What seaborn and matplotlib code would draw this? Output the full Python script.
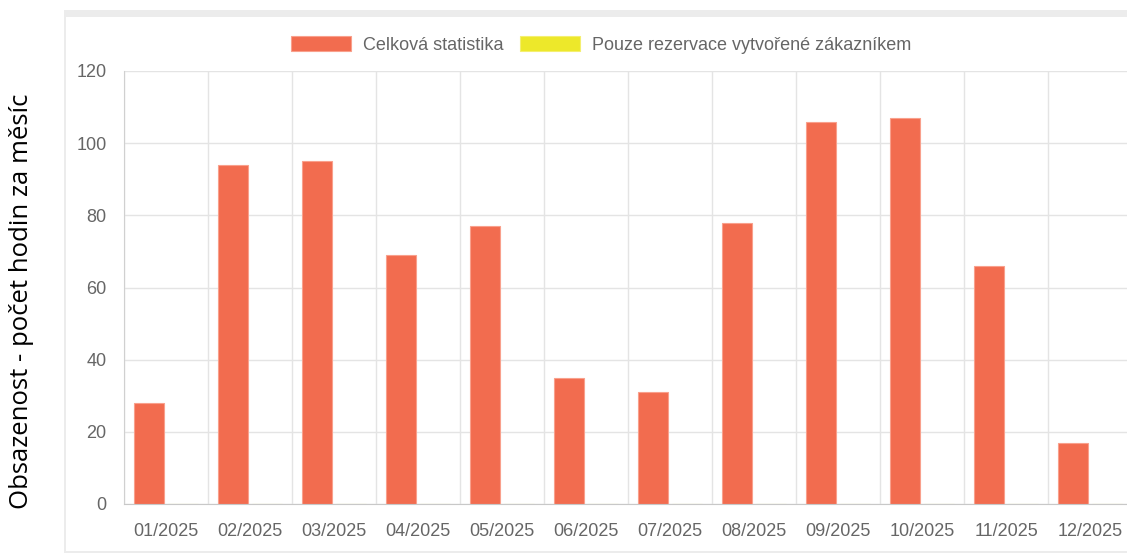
import pandas as pd
import matplotlib.pyplot as plt
import matplotlib.patches as mpatches
from matplotlib.ticker import FixedLocator, MultipleLocator
import seaborn as sns

# data
months = ['01/2025', '02/2025', '03/2025', '04/2025', '05/2025', '06/2025',
          '07/2025', '08/2025', '09/2025', '10/2025', '11/2025', '12/2025']
total_hours = [28, 94, 95, 69, 77, 35, 31, 78, 106, 107, 66, 17]
customer_hours = [0, 0, 0, 0, 0, 0, 0, 0, 0, 0, 0, 0]
series_names = ['Celková statistika', 'Pouze rezervace vytvořené zákazníkem']
colors = ['#f26c4f', '#ede82a']
edge_colors = ['#f9a08c', '#f4ef70']
y_label = 'Obsazenost - počet hodin za měsíc'

df = pd.DataFrame({
    'month': months * 2,
    'hours': total_hours + customer_hours,
    'series': [series_names[0]] * len(months) + [series_names[1]] * len(months),
})

sns.set_style('white')
plt.rcParams['font.family'] = ['Liberation Sans', 'DejaVu Sans']

fig = plt.figure(figsize=(11.27, 5.53), dpi=100)
W, H = 1127, 553

# light frame around the chart card (drawn on a background axes)
bg = fig.add_axes([0, 0, 1, 1], zorder=0)
bg.set_axis_off()
bg.set_xlim(0, W)
bg.set_ylim(H, 0)
bg.add_patch(mpatches.Rectangle((64, 10), W, H, facecolor='#ececec', edgecolor='none'))
bg.add_patch(mpatches.Rectangle((66, 17), W, 551 - 17, facecolor='white', edgecolor='none'))

ax = fig.add_axes([124 / W, 1 - 504 / H, (1132 - 124) / W, (504 - 71) / H], zorder=2)
ax.patch.set_alpha(0)

sns.barplot(data=df, x='month', y='hours', hue='series', palette=colors,
            width=0.8, gap=0.1, ax=ax, saturation=1, linewidth=0.8)

# lighter border per series, as in the original
for cont, ec in zip(ax.containers, edge_colors):
    for bar in cont:
        bar.set_edgecolor(ec)

ax.set_ylim(0, 120)
ax.set_xlim(-0.5, len(months) - 0.5)
ax.yaxis.set_major_locator(MultipleLocator(20))
ax.xaxis.set_minor_locator(FixedLocator([i - 0.5 for i in range(len(months) + 1)]))

grid_c = '#e4e4e4'
ax.grid(True, axis='y', which='major', color=grid_c, linewidth=1)
ax.grid(True, axis='x', which='minor', color=grid_c, linewidth=1)
ax.set_axisbelow(True)
for s in ['top', 'right']:
    ax.spines[s].set_visible(False)
ax.spines['left'].set_color('#d0d0d0')
ax.spines['bottom'].set_color('#c8c8c8')

ax.tick_params(axis='y', which='major', length=8.6, width=1, color=grid_c,
               labelsize=13, labelcolor='#666666', pad=4)
ax.tick_params(axis='x', which='major', length=0, labelsize=13,
               labelcolor='#666666', pad=14)
ax.tick_params(axis='x', which='minor', length=9.5, width=1, color=grid_c)
ax.set_xlabel('')
ax.set_ylabel('')

handles, labels = ax.get_legend_handles_labels()
for h, ec in zip(handles, edge_colors):
    h.set_edgecolor(ec)
ax.legend(handles, labels, ncol=2, loc='center', bbox_to_anchor=(601 / W, 1 - 45 / H),
          bbox_transform=fig.transFigure, frameon=False, fontsize=13,
          labelcolor='#666666', handlelength=3.3, handleheight=0.85,
          handletextpad=0.65, columnspacing=0.95)

fig.text(22 / W, 1 - 301 / H, y_label, rotation=90, ha='center', va='center',
         fontsize=18.5, color='black', family=['Open Sans', 'DejaVu Sans'])

fig.savefig('out.png', dpi=100)
